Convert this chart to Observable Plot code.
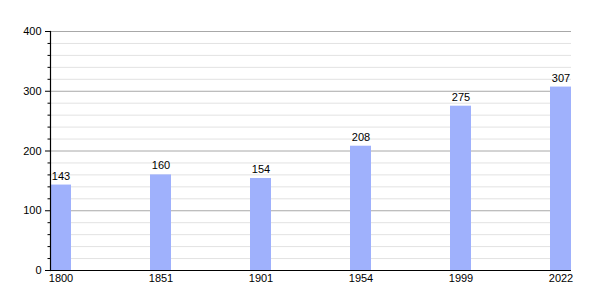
<!DOCTYPE html>
<html>
<head>
<meta charset="utf-8">
<script src="https://cdn.jsdelivr.net/npm/d3@7"></script>
<script src="https://cdn.jsdelivr.net/npm/@observablehq/plot@0.6"></script>
<style>
  body { margin: 0; background: #fff; }
  #chart svg { display: block; }
</style>
</head>
<body>
<div id="chart"></div>
<script>
const years = ["1800", "1851", "1901", "1954", "1999", "2022"];
const population = [143, 160, 154, 208, 275, 307];
const majorTicks = [0, 100, 200, 300, 400];
const minorTicks = d3.range(0, 401, 20).filter(v => v % 100 !== 0);

const data = years.map((y, i) => ({year: y, value: population[i]}));

const chart = Plot.plot({
  width: 600,
  height: 300,
  marginLeft: 50,
  marginRight: 29,
  marginTop: 31,
  marginBottom: 30,
  style: {fontFamily: "'Liberation Sans', Arial, sans-serif", fontSize: "11px", color: "#000", background: "#fff"},
  x: {domain: years, paddingInner: 0.79, paddingOuter: 0, align: 0, label: null},
  y: {domain: [0, 400], label: null},
  marks: [
    Plot.ruleY(minorTicks, {stroke: "#e2e2e2", strokeWidth: 1}),
    Plot.ruleY(majorTicks.filter(v => v > 0), {stroke: "#a8a8a8", strokeWidth: 1}),
    Plot.barY(data, {x: "year", y: "value", fill: "#9fb1fc"}),
    Plot.text(data, {x: "year", y: "value", text: d => String(d.value), dy: -9, fill: "#000", fontSize: 11}),
    Plot.axisY({ticks: majorTicks, tickSize: 5, tickPadding: 4, stroke: "#000", fill: "#000", label: null}),
    Plot.axisY({ticks: minorTicks, tickSize: 2.5, text: null, stroke: "#000", label: null}),
    Plot.axisX({tickSize: 0, tickPadding: 4, fill: "#000", label: null}),
    Plot.ruleY([0], {stroke: "#000", strokeWidth: 1.2}),
    Plot.frame({anchor: "left", stroke: "#000", strokeWidth: 1.2})
  ]
});
document.getElementById("chart").appendChild(chart);
</script>
</body>
</html>
